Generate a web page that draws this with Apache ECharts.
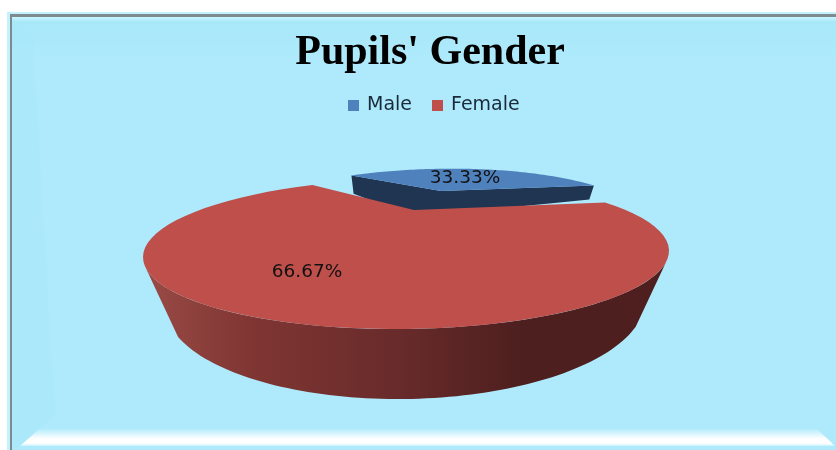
<!DOCTYPE html>
<html>
<head>
<meta charset="utf-8">
<style>
	html, body { margin: 0; padding: 0; background: #fff; }
	#chart { width: 836px; height: 450px; }
</style>
<script src="https://cdn.jsdelivr.net/npm/echarts@6/dist/echarts.min.js"></script>
</head>
<body>
<div id="chart"></div>
<script>
var categories = ['Male', 'Female'];
var shares = [33.33, 66.67];
var colors = ['#4F81BD', '#BE4F4B'];

// pie is seen in perspective: the true angle gets squeezed on the far side
var axisAngle = 284.15, squeeze = 0.546;
var rad = Math.PI / 180;

function rimAngle(deg) {
	var half = deg * rad / 2;
	return axisAngle * rad + 2 * Math.atan2(squeeze * Math.sin(half), Math.cos(half));
}
function ellipsePoint(e, t) {
	var dx = e.a * Math.cos(t);
	return [e.cx + dx, e.cy + e.b * Math.sin(t) + e.shear * dx];
}

var femaleTop = {cx: 406, cy: 254, a: 263, b: 75, shear: -0.012};
var femaleBottom = {cx: 405, cy: 303, a: 240, b: 96, shear: -0.012};
var maleTop = {cx: 429, cy: 231, a: 218, b: 62, shear: -0.03};
var maleBottom = {cx: 429, cy: 248, a: 212, b: 62, shear: -0.05};

function arc(e, from, to) {
	var pts = [];
	for (var i = 0; i <= 80; i++) {
		pts.push(ellipsePoint(e, from + (to - from) * i / 80));
	}
	return pts;
}
function label(value, x, y) {
	return {
		type: 'text', x: x, y: y, z2: 10,
		style: {
			text: value.toFixed(2) + '%', fill: '#111',
			font: '18.5px "DejaVu Sans"', align: 'center', verticalAlign: 'middle'
		}
	};
}

function renderMale(params, api) {
	var span = api.value(0) / 100 * 360;
	var t0 = rimAngle(-span / 2), t1 = rimAngle(span / 2);
	var apexTop = [441, 191], apexBottom = [414, 217];
	var wall = arc(maleBottom, t0, t1);
	wall = [ellipsePoint(maleTop, t0), apexTop, ellipsePoint(maleTop, t1), wall[wall.length - 1], apexBottom, wall[0]];
	return {
		type: 'group',
		children: [
			{type: 'polygon', shape: {points: wall}, style: {fill: '#1F3552'}},
			{type: 'polygon', shape: {points: [apexTop].concat(arc(maleTop, t0, t1))}, style: {fill: colors[0]}},
			label(api.value(0), 465, 178)
		]
	};
}

function renderFemale(params, api) {
	var span = api.value(0) / 100 * 360;
	var maleSpan = 360 - span;
	var t0 = rimAngle(maleSpan / 2), t1 = rimAngle(maleSpan / 2 + span);
	// near side wall, between the two visible silhouette points of each rim
	var wall = arc(femaleTop, 7 * rad, 173 * rad).concat(arc(femaleBottom, 161 * rad, 16 * rad));
	return {
		type: 'group',
		children: [
			{
				type: 'polygon', shape: {points: wall},
				style: {
					fill: {
						type: 'linear', global: true, x: 143, y: 0, x2: 669, y2: 0,
						colorStops: [
							{offset: 0, color: '#9A4B46'},
							{offset: 0.2, color: '#803633'},
							{offset: 0.5, color: '#672A2A'},
							{offset: 0.72, color: '#4D1F1E'},
							{offset: 1, color: '#4E1F1E'}
						]
					}
				}
			},
			{type: 'polygon', shape: {points: [[414, 210]].concat(arc(femaleTop, t0, t1))}, style: {fill: colors[1]}},
			label(api.value(0), 307, 272)
		]
	};
}

var myChart = echarts.init(document.getElementById('chart'), null, {renderer: 'canvas'});
myChart.setOption({
	animation: false,
	backgroundColor: '#fff',
	title: {
		text: "Pupils' Gender",
		left: 425, top: 27, textAlign: 'center',
		textStyle: {fontFamily: '"Liberation Serif"', fontWeight: 'bold', fontSize: 42, color: '#000'}
	},
	legend: {
		data: categories,
		left: 343, top: 91,
		icon: 'rect', itemWidth: 11, itemHeight: 11, itemGap: 20,
		selectedMode: false,
		textStyle: {fontFamily: '"DejaVu Sans"', fontSize: 19, color: '#1a2a3a', padding: [0, 0, 0, 3]}
	},
	// the slide background with its bevel
	graphic: [
		{type: 'rect', z: -10, shape: {x: 7, y: 12, width: 829, height: 438}, style: {fill: '#C4F2FC'}},
		{type: 'rect', z: -9, shape: {x: 10, y: 14, width: 826, height: 436}, style: {fill: '#7F8A8E'}},
		{
			type: 'rect', z: -8, shape: {x: 12, y: 17, width: 824, height: 433},
			style: {
				fill: {
					type: 'linear', x: 0, y: 0, x2: 0, y2: 1,
					colorStops: [
						{offset: 0, color: '#C8F6FF'},
						{offset: 0.012, color: '#A8E8F9'},
						{offset: 0.1, color: '#AEEAFB'},
						{offset: 1, color: '#AEEAFB'}
					]
				}
			}
		},
		{
			type: 'polygon', z: -7,
			shape: {points: [[20, 446], [40, 428], [816, 428], [835, 446]]},
			style: {
				fill: {
					type: 'linear', x: 0, y: 0, x2: 0, y2: 1,
					colorStops: [
						{offset: 0, color: '#AEEAFB'},
						{offset: 0.6, color: '#FFFFFF'},
						{offset: 0.85, color: '#FFFFFF'},
						{offset: 1, color: '#C4F2FC'}
					]
				}
			}
		},
		{type: 'polygon', z: -7, shape: {points: [[12, 17], [33, 38], [55, 415], [20, 446], [12, 450]]}, style: {fill: '#A6E7F8', opacity: 0.35}}
	],
	series: [
		{
			name: categories[0], type: 'custom', coordinateSystem: 'none', z: 2,
			itemStyle: {color: colors[0]},
			renderItem: renderMale, data: [[shares[0]]], silent: true
		},
		{
			name: categories[1], type: 'custom', coordinateSystem: 'none', z: 3,
			itemStyle: {color: colors[1]},
			renderItem: renderFemale, data: [[shares[1]]], silent: true
		}
	]
});
</script>
</body>
</html>
